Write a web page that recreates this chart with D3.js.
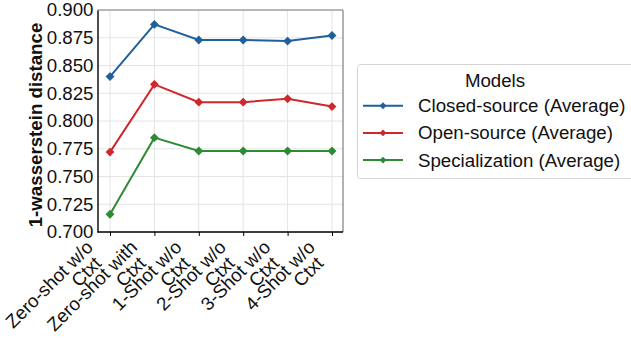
<!DOCTYPE html>
<html>
<head>
<meta charset="utf-8">
<script src="https://cdn.jsdelivr.net/npm/d3@7"></script>
<style>
  html, body { margin: 0; padding: 0; background: #fff; }
  svg { display: block; font-family: "Liberation Sans", Arial, sans-serif; }
</style>
</head>
<body>
<svg id="chart" width="631" height="338"></svg>
<script>
// Prompting settings along the x axis (two-line labels)
const categories = [
  ["Zero-shot w/o", "Ctxt"],
  ["Zero-shot with", "Ctxt"],
  ["1-Shot w/o", "Ctxt"],
  ["2-Shot w/o", "Ctxt"],
  ["3-Shot w/o", "Ctxt"],
  ["4-Shot w/o", "Ctxt"]
];
const seriesNames = [
  "Closed-source (Average)",
  "Open-source (Average)",
  "Specialization (Average)"
];
const closedSource = [0.840, 0.887, 0.873, 0.873, 0.872, 0.877];
const openSource = [0.772, 0.833, 0.817, 0.817, 0.820, 0.813];
const specialization = [0.716, 0.785, 0.773, 0.773, 0.773, 0.773];
const yTicks = [0.700, 0.725, 0.750, 0.775, 0.800, 0.825, 0.850, 0.875, 0.900];
const colors = ["#215f9b", "#d0272a", "#2e8a33"];

const series = [closedSource, openSource, specialization].map((values, i) => ({
  name: seriesNames[i], values, color: colors[i]
}));

const svg = d3.select("#chart");
const fs = 18.7;
const plot = { left: 97.5, right: 343, top: 10, bottom: 232 };

const x = d3.scalePoint()
  .domain(d3.range(categories.length))
  .range([110, 332]);
const y = d3.scaleLinear()
  .domain([0.700, 0.900])
  .range([plot.bottom, plot.top]);

// grid
const grid = svg.append("g");
grid.selectAll("line.h").data(yTicks).join("line")
  .attr("x1", plot.left).attr("x2", plot.right)
  .attr("y1", d => y(d)).attr("y2", d => y(d))
  .attr("stroke", "#e4e4e4").attr("stroke-width", 1);
grid.selectAll("line.v").data(d3.range(categories.length)).join("line")
  .attr("x1", d => x(d)).attr("x2", d => x(d))
  .attr("y1", plot.top).attr("y2", plot.bottom)
  .attr("stroke", "#e4e4e4").attr("stroke-width", 1);

// frame: gray top/right, black left/bottom
svg.append("line").attr("x1", plot.left).attr("x2", plot.right)
  .attr("y1", plot.top).attr("y2", plot.top).attr("stroke", "#7f7f7f").attr("stroke-width", 1.2);
svg.append("line").attr("x1", plot.right).attr("x2", plot.right)
  .attr("y1", plot.top).attr("y2", plot.bottom).attr("stroke", "#7f7f7f").attr("stroke-width", 1.2);

// y axis
const yAxis = d3.axisLeft(y).tickValues(yTicks).tickFormat(d3.format(".3f")).tickSize(0).tickPadding(4);
const gy = svg.append("g").attr("transform", `translate(${plot.left},0)`).call(yAxis);
gy.select(".domain").attr("stroke", "#000").attr("stroke-width", 1.4);
gy.selectAll("text").attr("font-size", fs).attr("fill", "#111")
  .attr("font-family", "Liberation Sans, Arial, sans-serif");

// x axis
const xAxis = d3.axisBottom(x).tickSize(4).tickFormat("");
const gx = svg.append("g").attr("transform", `translate(0,${plot.bottom})`).call(xAxis);
gx.select(".domain").attr("d", `M${plot.left},0H${plot.right}`).attr("stroke", "#000").attr("stroke-width", 1.4);
gx.selectAll(".tick line").attr("stroke", "#000").attr("stroke-width", 1);

// rotated two-line x labels: each line is its own text, right end anchored near the tick
const lineEnds = [[-16, 248.5], [-7.5, 264.5]];
categories.forEach((lines, i) => {
  lines.forEach((ln, j) => {
    svg.append("text")
      .attr("text-anchor", "end")
      .attr("font-size", fs)
      .attr("fill", "#111")
      .attr("transform", `translate(${x(i) + lineEnds[j][0]},${lineEnds[j][1]}) rotate(-45)`)
      .text(ln);
  });
});

// y label
svg.append("text")
  .attr("transform", `translate(42,${(plot.top + plot.bottom) / 2 + 4}) rotate(-90)`)
  .attr("text-anchor", "middle")
  .attr("font-size", fs)
  .attr("font-weight", "bold")
  .attr("fill", "#111")
  .text("1-wasserstein distance");

// lines + diamond markers
const line = d3.line().x((d, i) => x(i)).y(d => y(d));
const diamond = d3.symbol().type(d3.symbolDiamond2).size(50);
series.forEach(s => {
  svg.append("path").datum(s.values)
    .attr("d", line)
    .attr("fill", "none")
    .attr("stroke", s.color)
    .attr("stroke-width", 2);
  svg.append("g").selectAll("path").data(s.values).join("path")
    .attr("d", diamond)
    .attr("transform", (d, i) => `translate(${x(i)},${y(d)})`)
    .attr("fill", s.color);
});

// legend
const lg = svg.append("g");
lg.append("rect")
  .attr("x", 357.5).attr("y", 64.5).attr("width", 290).attr("height", 114)
  .attr("rx", 3).attr("fill", "#fff").attr("stroke", "#d4d4d4").attr("stroke-width", 1);
lg.append("text").attr("x", 495).attr("y", 87).attr("text-anchor", "middle")
  .attr("font-size", fs).attr("fill", "#111").text("Models");
series.forEach((s, i) => {
  const cy = 105.7 + i * 27.2;
  lg.append("line").attr("x1", 363).attr("x2", 403).attr("y1", cy).attr("y2", cy)
    .attr("stroke", s.color).attr("stroke-width", 2);
  lg.append("path").attr("d", d3.symbol().type(d3.symbolDiamond2).size(30))
    .attr("transform", `translate(383,${cy})`).attr("fill", s.color);
  lg.append("text").attr("x", 418).attr("y", cy + 6.5)
    .attr("font-size", fs).attr("fill", "#111").text(s.name);
});
</script>
</body>
</html>
